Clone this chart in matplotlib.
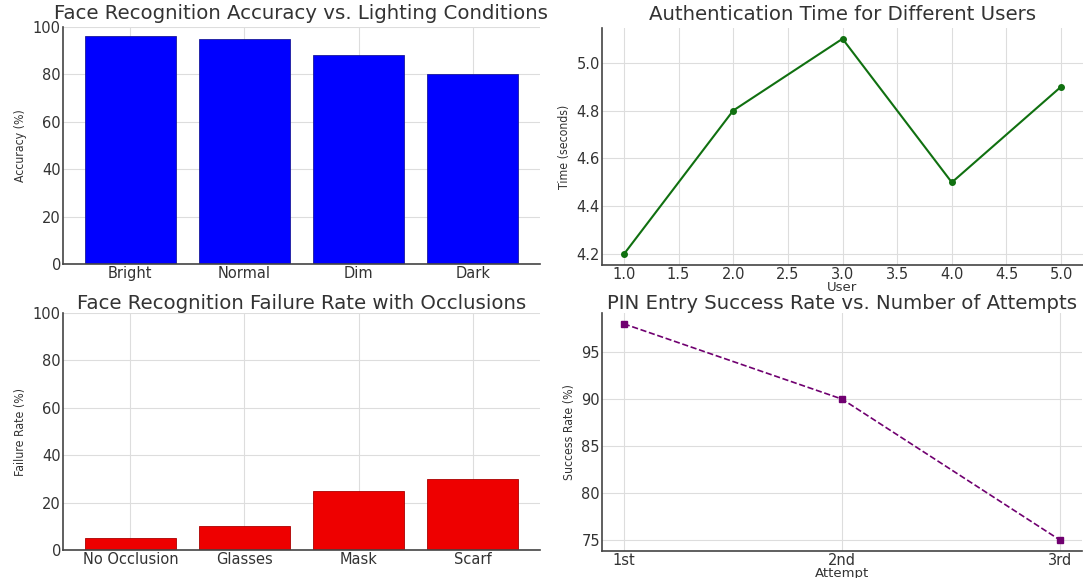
import matplotlib
matplotlib.use("Agg")
import matplotlib.pyplot as plt

# Data
lighting = ["Bright", "Normal", "Dim", "Dark"]
accuracy = [96, 95, 88, 80]

users = [1, 2, 3, 4, 5]
auth_time = [4.2, 4.8, 5.1, 4.5, 4.9]

occlusions = ["No Occlusion", "Glasses", "Mask", "Scarf"]
failure_rate = [5, 10, 25, 30]

attempts = ["1st", "2nd", "3rd"]
success_rate = [98, 90, 75]

plt.rcParams["font.family"] = ["DejaVu Sans"]
txt = "#333333"
plt.rcParams["text.color"] = txt
plt.rcParams["axes.labelcolor"] = txt
plt.rcParams["xtick.color"] = txt
plt.rcParams["ytick.color"] = txt

W, H = 1083, 578
fig = plt.figure(figsize=(W / 100, H / 100), dpi=100)


def ax_at(l, t, r, b):
    return fig.add_axes([l / W, 1 - b / H, (r - l) / W, (b - t) / H])


def style(ax):
    ax.grid(True, color="#dddddd", linewidth=0.8)
    ax.set_axisbelow(True)
    for s in ["top", "right"]:
        ax.spines[s].set_visible(False)
    for s in ["left", "bottom"]:
        ax.spines[s].set_color("#444444")
        ax.spines[s].set_linewidth(1.2)
    ax.tick_params(length=0, labelsize=10.5, pad=1.5)


top_title = dict(fontsize=14.2, color="#333333", pad=6)
bot_title = dict(fontsize=14.2, color="#333333", pad=3)
ylab_kw = dict(fontsize=8.8, fontstretch="condensed", labelpad=4)
xlab_kw = dict(fontsize=9.5, labelpad=-1)

# Top-left
ax1 = ax_at(63, 27, 540, 264)
ax1.bar(lighting, accuracy, color="#0000ff", edgecolor="#1a1a9a", linewidth=0.6, width=0.8)
ax1.set_ylim(0, 100)
ax1.set_title("Face Recognition Accuracy vs. Lighting Conditions", **top_title)
ax1.set_ylabel("Accuracy (%)", **ylab_kw)
style(ax1)

# Top-right
ax2 = ax_at(602, 28, 1083, 265)
ax2.plot(users, auth_time, color="#107010", marker="o", markersize=4, linewidth=1.5)
ax2.set_title("Authentication Time for Different Users", **top_title)
ax2.set_ylabel("Time (seconds)", **ylab_kw)
ax2.set_yticks([4.2, 4.4, 4.6, 4.8, 5.0])
style(ax2)
ax2.set_xlabel("User", **xlab_kw)

# Bottom-left
ax3 = ax_at(63, 313, 540, 550)
ax3.bar(occlusions, failure_rate, color="#ee0000", edgecolor="#aa0000", linewidth=0.6, width=0.8)
ax3.set_ylim(0, 100)
ax3.set_title("Face Recognition Failure Rate with Occlusions", **bot_title)
ax3.set_ylabel("Failure Rate (%)", **ylab_kw)
style(ax3)

# Bottom-right
ax4 = ax_at(602, 313, 1082, 551)
ax4.plot(attempts, success_rate, color="#700070", marker="s", markersize=4,
         linestyle="--", linewidth=1.2)
ax4.set_title("PIN Entry Success Rate vs. Number of Attempts", **bot_title)
ax4.set_ylabel("Success Rate (%)", **ylab_kw)
style(ax4)
ax4.set_xlabel("Attempt", **xlab_kw)

fig.savefig("out.png", dpi=100)
